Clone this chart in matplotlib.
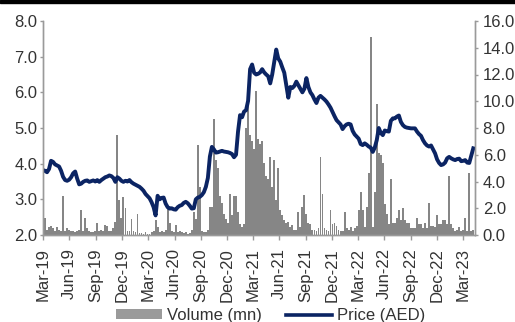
import matplotlib
matplotlib.use("Agg")
import matplotlib.pyplot as plt
import matplotlib.dates as mdates
from matplotlib.patches import Rectangle
from matplotlib.lines import Line2D
from matplotlib.ticker import FormatStrFormatter, MultipleLocator
import pandas as pd

plt.rcParams["font.family"] = ["Liberation Sans", "DejaVu Sans"]

# Weekly closing price (AED) and traded volume (mn shares), from 1 Mar 2019
price = [
    3.82, 3.80, 3.76, 3.85, 4.08, 4.05, 3.98, 3.95, 3.92, 3.80,
    3.63, 3.54, 3.52, 3.55, 3.62, 3.73, 3.78, 3.58, 3.42, 3.44,
    3.49, 3.52, 3.53, 3.49, 3.51, 3.53, 3.50, 3.54, 3.49, 3.54,
    3.58, 3.62, 3.64, 3.67, 3.65, 3.60, 3.49, 3.62, 3.58, 3.52,
    3.49, 3.52, 3.50, 3.54, 3.48, 3.44, 3.41, 3.38, 3.35, 3.30,
    3.24, 3.15, 3.09, 3.03, 2.92, 2.78, 2.55, 3.10, 3.00, 3.04,
    3.05, 2.88, 2.78, 2.74, 2.75, 2.72, 2.71, 2.78, 2.82, 2.84,
    2.90, 2.93, 2.89, 2.82, 2.74, 2.75, 3.00, 3.05, 3.07, 3.12,
    3.20, 3.35, 3.60, 4.20, 4.47, 4.40, 4.31, 4.32, 4.34, 4.36,
    4.34, 4.33, 4.32, 4.30, 4.27, 4.18, 4.25, 4.90, 5.36, 5.30,
    5.46, 5.50, 5.76, 6.65, 6.78, 6.55, 6.50, 6.52, 6.56, 6.65,
    6.56, 6.50, 6.45, 6.25, 6.50, 6.85, 7.20, 6.95, 6.86, 6.70,
    6.55, 6.20, 5.85, 6.15, 6.12, 6.18, 6.30, 6.20, 6.10, 6.00,
    6.10, 6.40, 6.15, 6.00, 5.92, 5.80, 5.70, 5.85, 5.90, 5.85,
    5.80, 5.74, 5.66, 5.57, 5.45, 5.33, 5.22, 5.16, 5.10, 4.97,
    5.05, 5.10, 5.12, 5.10, 4.92, 4.82, 4.76, 4.70, 4.55, 4.52,
    4.57, 4.53, 4.48, 4.45, 4.33, 4.45, 4.66, 5.00, 4.86, 4.80,
    4.93, 4.91, 4.90, 5.20, 5.27, 5.27, 5.32, 5.35, 5.17, 5.08,
    5.03, 5.01, 5.00, 4.99, 4.99, 4.99, 4.90, 4.83, 4.78, 4.66,
    4.57, 4.51, 4.48, 4.51, 4.40, 4.29, 4.12, 4.02, 3.96, 3.98,
    4.03, 4.15, 4.19, 4.15, 4.12, 4.10, 4.13, 4.14, 4.07, 4.08,
    4.10, 4.03, 4.02, 4.22, 4.43,
]

volume = [
    2.86, 1.27, 0.4, 0.6, 0.7, 0.5, 0.3, 0.6, 0.4, 0.3,
    2.9, 0.3, 0.5, 0.4, 0.3, 0.3, 0.2, 0.3, 0.4, 1.9,
    0.3, 1.25, 0.5, 0.3, 0.2, 0.2, 0.3, 0.9, 0.3, 0.4,
    0.3, 0.75, 0.7, 0.3, 0.3, 0.5, 1.0, 7.5, 2.6, 1.25,
    2.87, 2.0, 0.3, 0.3, 1.2, 0.3, 0.2, 1.6, 0.15, 0.15,
    0.1, 0.2, 0.1, 0.1, 0.2, 0.3, 1.1, 0.6, 0.2, 0.3,
    0.2, 0.4, 2.0, 0.9, 0.3, 0.2, 0.75, 0.2, 0.3, 0.2,
    0.15, 0.2, 0.1, 0.15, 0.4, 1.75, 1.2, 6.7, 3.6, 0.3,
    0.2, 0.2, 0.4, 2.1, 2.1, 8.7, 5.6, 5.0, 2.9, 2.4,
    1.6, 1.2, 0.9, 3.1, 1.5, 2.9, 2.9, 1.75, 0.8, 0.6,
    0.8, 8.0, 10.7, 7.5, 7.0, 6.4, 10.8, 7.2, 6.8, 7.0,
    5.4, 4.4, 4.2, 5.85, 3.6, 5.6, 2.6, 5.0, 1.9, 1.5,
    1.1, 0.9, 1.0, 0.6, 0.75, 0.4, 0.4, 1.75, 0.6, 2.1,
    3.0, 1.6, 0.9, 0.8, 0.4, 0.4, 0.3, 0.5, 5.85, 3.1,
    0.5, 0.4, 0.3, 1.9, 0.8, 0.9, 0.7, 0.4, 0.3, 0.3,
    1.75, 0.5, 0.4, 0.6, 0.3, 0.5, 0.7, 1.9, 3.2, 1.9,
    0.6, 2.1, 4.6, 14.8, 0.6, 3.2, 9.8, 6.1, 6.0, 5.4,
    2.3, 1.6, 0.8, 4.2, 0.9, 0.9, 1.3, 1.9, 1.1, 2.0,
    1.1, 0.9, 0.9, 0.5, 0.5, 0.5, 1.3, 0.8, 0.8, 0.5,
    0.9, 0.5, 2.4, 0.7, 0.7, 0.6, 1.5, 0.8, 0.8, 1.1,
    1.1, 0.8, 4.4, 0.8, 0.5, 0.3, 0.4, 0.6, 0.3, 0.4,
    1.3, 0.3, 4.6, 0.3, 0.4,
]

dates = pd.date_range("2019-03-01", periods=len(price), freq="7D")
tick_dates = pd.date_range("2019-03-01", "2023-03-01", freq="3MS")

NAVY = "#0b2463"
GREY_BAR = "#868686"
SPINE = "#9a9a9a"
TEXT = "#333333"

fig = plt.figure(figsize=(5.15, 3.22), dpi=100)
fig.patches.append(Rectangle((0, 1 - 3 / 322), 1, 3 / 322, transform=fig.transFigure,
                             color="black", zorder=10))

ax_vol = fig.add_axes([43 / 515, 1 - 235 / 322, 432 / 515, 214 / 322])
ax_px = ax_vol.twinx()

# volume bars on the right-hand scale
ax_vol.bar(dates, volume, width=6.5, color=GREY_BAR, linewidth=0, align="center")
ax_vol.set_ylim(0, 16)
ax_vol.yaxis.set_major_locator(MultipleLocator(2))
ax_vol.yaxis.set_major_formatter(FormatStrFormatter("%.1f"))
ax_vol.yaxis.tick_right()

# price line on the left-hand scale, drawn above the bars
ax_px.plot(dates, price, color=NAVY, linewidth=2.8, solid_joinstyle="round")
ax_px.set_ylim(2, 8)
ax_px.yaxis.set_major_locator(MultipleLocator(1))
ax_px.yaxis.set_major_formatter(FormatStrFormatter("%.1f"))
ax_px.yaxis.tick_left()
ax_px.set_zorder(ax_vol.get_zorder() + 1)
ax_px.patch.set_visible(False)

ax_vol.set_xlim(pd.Timestamp("2019-03-01"), pd.Timestamp("2023-04-13"))
ax_vol.set_xticks(tick_dates)
ax_vol.xaxis.set_major_formatter(mdates.DateFormatter("%b-%y"))
for lbl in ax_vol.get_xticklabels():
    lbl.set_rotation(90)

for a in (ax_vol, ax_px):
    a.spines["top"].set_visible(False)
    for s in ("left", "right", "bottom"):
        a.spines[s].set_color(SPINE)
        a.spines[s].set_linewidth(1.0)

ax_vol.tick_params(axis="x", direction="out", length=3.5, width=1, color=SPINE,
                   labelsize=12, labelcolor=TEXT, pad=6)
ax_vol.tick_params(axis="y", direction="out", length=2.5, width=1, color=SPINE,
                   labelsize=12, labelcolor=TEXT, pad=3)
ax_px.tick_params(axis="y", direction="out", length=2.5, width=1, color=SPINE,
                  labelsize=12, labelcolor=TEXT, pad=1.5)

handles = [
    Rectangle((0, 0), 1, 1, color="#9a9a9a", linewidth=0),
    Line2D([0], [0], color=NAVY, linewidth=2.6),
]
fig.legend(handles, ["Volume (mn)", "Price (AED)"], loc="center",
           bbox_to_anchor=(0.526, 0.02), ncol=2, frameon=False, fontsize=12,
           handlelength=2.75, handleheight=0.55, handletextpad=0.3,
           columnspacing=1.45, borderpad=0, labelcolor=TEXT)

fig.savefig("out.png", dpi=100)
